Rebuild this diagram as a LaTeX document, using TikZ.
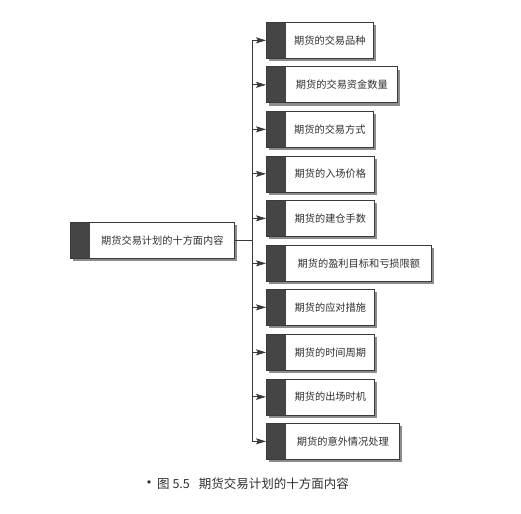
\documentclass[tikz,border=0pt]{standalone}
\usepackage{fontspec}
\setmainfont{Noto Sans CJK SC}
\usetikzlibrary{arrows.meta,shadows}
\definecolor{stripc}{HTML}{454545}
\definecolor{linec}{HTML}{3A3A3A}
\definecolor{shadc}{HTML}{8C8C8C}
\definecolor{textc}{HTML}{303030}
\tikzset{
  box/.style={draw=linec, line width=0.7pt, fill=white, minimum height=36pt, inner sep=0pt,
    drop shadow={shadow xshift=3pt, shadow yshift=-3pt, fill=shadc, opacity=1},
    path picture={\fill[stripc] (path picture bounding box.north west) rectangle ([xshift=20pt]path picture bounding box.south west);}},
  lbl/.style={font=\fontsize{10.2}{12}\selectfont, text=textc, inner sep=0pt},
  conn/.style={draw=linec, line width=0.8pt},
  arr/.style={conn, -{Stealth[length=10pt,width=6pt,inset=2pt]}}
}
\begin{document}
\begin{tikzpicture}[x=1pt,y=-1pt]
\useasboundingbox (0,0) rectangle (521,513);
\fill[white] (0,0) rectangle (521,513);
% main box
\node[box, minimum width=164pt, anchor=north west] (m) at (70,222) {};
\node[lbl] (mt) at ([xshift=10pt]m.center) {期货交易计划的十方面内容};
% right boxes
\node[box, minimum width=107pt, anchor=north west] (b1) at (266,22) {};
\node[box, minimum width=131pt, anchor=north west] (b2) at (266,66.5) {};
\node[box, minimum width=107pt, anchor=north west] (b3) at (266,111) {};
\node[box, minimum width=108pt, anchor=north west] (b4) at (266,155.5) {};
\node[box, minimum width=108pt, anchor=north west] (b5) at (266,200) {};
\node[box, minimum width=165pt, anchor=north west] (b6) at (266,245) {};
\node[box, minimum width=108pt, anchor=north west] (b7) at (266,289) {};
\node[box, minimum width=108pt, anchor=north west] (b8) at (266,334) {};
\node[box, minimum width=108pt, anchor=north west] (b9) at (266,378.5) {};
\node[box, minimum width=133pt, anchor=north west] (b10) at (266,423) {};
\node[lbl] (t1) at ([xshift=10pt]b1.center) {期货的交易品种};
\node[lbl] (t2) at ([xshift=10pt]b2.center) {期货的交易资金数量};
\node[lbl] (t3) at ([xshift=10pt]b3.center) {期货的交易方式};
\node[lbl] (t4) at ([xshift=10pt]b4.center) {期货的入场价格};
\node[lbl] (t5) at ([xshift=10pt]b5.center) {期货的建仓手数};
\node[lbl] (t6) at ([xshift=10pt]b6.center) {期货的盈利目标和亏损限额};
\node[lbl] (t7) at ([xshift=10pt]b7.center) {期货的应对措施};
\node[lbl] (t8) at ([xshift=10pt]b8.center) {期货的时间周期};
\node[lbl] (t9) at ([xshift=10pt]b9.center) {期货的出场时机};
\node[lbl] (t10) at ([xshift=10pt]b10.center) {期货的意外情况处理};
% trunk
\coordinate (tr) at (252,0);
\draw[conn] (b1.west -| tr) -- (b10.west -| tr);
\draw[conn] (m.east) -- (m.east -| tr);
\foreach \i in {1,...,10}{
  \draw[arr] (b\i.west -| tr) -- (b\i.west);
}
% caption
\node[anchor=west, inner sep=0pt, font=\fontsize{12.5}{14}\selectfont, text=textc] (cap) at (141,484) {{\fontsize{16}{14}\selectfont •}图 5.5\hspace{9pt}期货交易计划的十方面内容};
\end{tikzpicture}
\end{document}
